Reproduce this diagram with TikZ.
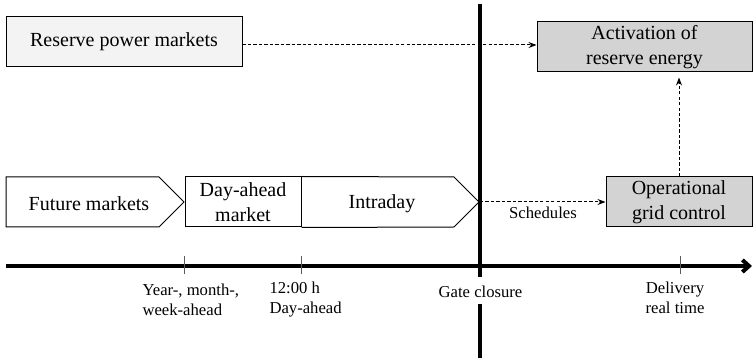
\documentclass[tikz,border=0pt]{standalone}
\usepackage{fontspec}
\setmainfont{Liberation Serif}
\usetikzlibrary{arrows.meta}
\definecolor{paleFill}{RGB}{243,243,243}
\definecolor{ctrlFill}{RGB}{211,211,211}
\definecolor{tickGray}{RGB}{90,90,90}
\tikzset{every picture/.style={line width=0.75pt}}
\tikzset{
  mkttext/.style={inner sep=0pt, align=center, font=\fontsize{15}{18.5}\selectfont},
  mktbox/.style={mkttext, draw, minimum height=37.5pt},
  smalltext/.style={inner sep=0pt, font=\fontsize{12.5}{15}\selectfont},
  flow/.style={dash pattern=on 2.5pt off 1.6pt, -{Stealth[length=6pt,width=4.5pt]}},
  thickline/.style={line width=3pt},
  tickmark/.style={draw=tickGray, line width=0.6pt},
}

\begin{document}
\begin{tikzpicture}[x=0.75pt,y=0.75pt,yscale=-1,xscale=1]
	\useasboundingbox (0,0) rectangle (753,359);

	%Shape: Future markets arrow
	\draw (6,177) -- (159,177) -- (184,202) -- (159,227) -- (6,227) -- cycle ;
	\node[mkttext] (future) at (89,204) {Future markets};
	%Shape: Day-ahead box
	\node[mktbox, minimum width=87pt] (dayahead) at (243,202) {Day-ahead\\market};
	%Shape: Intraday arrow
	\draw (dayahead.north east) -- (454,177) -- (479,202) -- (454,227) -- (dayahead.south east) ;
	\node[mkttext] (intraday) at (382,204) {Intraday};
	\coordinate (intratip) at (480,202);

	%Shape: Reserve power markets box
	\node[mktbox, fill=paleFill, minimum width=177pt] (reserve) at (124,42) {Reserve power markets};
	%Shape: Activation box
	\node[mktbox, fill=ctrlFill, minimum width=161.25pt] (activation) at (644.5,47) {Activation of\\reserve energy};
	%Shape: Operational box
	\node[mktbox, fill=ctrlFill, minimum width=109.5pt] (operational) at (679,202) {Operational\\grid control};

	%Straight Lines: gate closure
	\coordinate (gatetop) at (480,4);
	\coordinate (gatemid) at (480,277);
	\coordinate (gatelow) at (480,304);
	\coordinate (gatebot) at (480,358);
	\draw[thickline] (gatetop) -- (gatemid) ;
	\draw[thickline] (gatelow) -- (gatebot) ;

	%Straight Lines: time axis
	\coordinate (axisstart) at (6,266);
	\coordinate (axisend) at (752,266);
	\draw[thickline, -{Straight Barb[length=5pt,width=9pt]}] (axisstart) -- (axisend) ;
	\foreach \t in {184,301,680}
		\draw[tickmark] (\t,256) -- (\t,274) ;

	%Dashed arrows
	\coordinate (rsvout) at (reserve.east |- 0,45);
	\draw[flow] (rsvout) -- (activation.west |- rsvout) ;
	\draw[flow] (intratip) -- (operational.west) ;
	\draw[flow, shorten >=3.75pt] (operational.north) -- (activation.south -| operational.north) ;

	% Text Node
	\node[smalltext] (schedules) at (543,212.5) {Schedules};
	% Text Node
	\node[smalltext, align=left, anchor=west] (yearlbl) at (142,300) {Year-, month-,\\week-ahead};
	% Text Node
	\node[smalltext, align=left, anchor=west] (noonlbl) at (269,300) {12:00 h\\Day-ahead};
	% Text Node
	\node[smalltext] (gatelbl) at (480.5,291.5) {Gate closure};
	% Text Node
	\node[smalltext, align=center] (deliverylbl) at (675,298) {Delivery\\real time};

\end{tikzpicture}
\end{document}
